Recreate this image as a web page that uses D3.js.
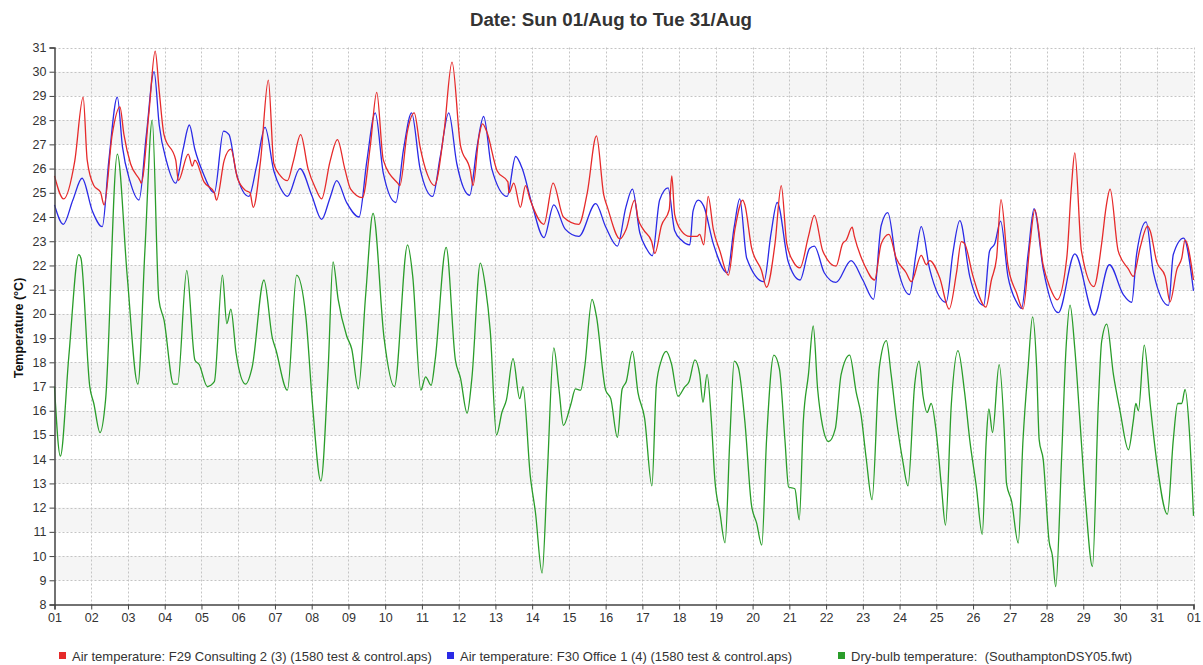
<!DOCTYPE html>
<html>
<head>
<meta charset="utf-8">
<script src="https://cdn.jsdelivr.net/npm/d3@7"></script>
<style>
  html, body { margin: 0; padding: 0; background: #ffffff; }
  svg { display: block; font-family: "Liberation Sans", Arial, sans-serif; }
</style>
</head>
<body>
<svg id="chart" width="1203" height="665"></svg>
<script>
// ---------- DATA (day offset from 01/Aug 00:00, temperature °C) ----------
const titleText = "Date: Sun 01/Aug to Tue 31/Aug";
const yAxisLabel = "Temperature (°C)";
const seriesNames = [
  "Air temperature: F29 Consulting 2 (3) (1580 test & control.aps)",
  "Air temperature: F30 Office 1 (4) (1580 test & control.aps)",
  "Dry-bulb temperature:  (SouthamptonDSY05.fwt)"
];
const xTickLabels = ["01","02","03","04","05","06","07","08","09","10","11","12","13","14","15","16",
  "17","18","19","20","21","22","23","24","25","26","27","28","29","30","31","01"];
const yTicks = [8,9,10,11,12,13,14,15,16,17,18,19,20,21,22,23,24,25,26,27,28,29,30,31];

const consulting2 = [
  [0,25.7],[0.25,24.75],[0.55,26.3],[0.78,28.95],[0.89,26.35],[1.07,25.3],[1.25,25.03],[1.35,24.5],
  [1.57,27.4],[1.78,28.55],[1.89,27.4],[2.07,26.2],[2.33,25.5],[2.36,25.4],[2.57,28.3],[2.74,30.85],
  [2.85,29.2],[2.98,27.4],[3.3,26.35],[3.37,25.5],[3.64,26.6],[3.75,26.1],[3.82,26.35],[4.07,25.45],
  [4.35,25.0],[4.41,24.7],[4.62,26.35],[4.8,26.8],[4.98,25.6],[5.2,25.1],[5.32,25.0],[5.41,24.4],
  [5.61,26.35],[5.82,29.65],[5.97,26.2],[6.15,25.7],[6.34,25.5],[6.5,26.3],[6.7,27.4],[6.9,26.0],
  [7.1,25.2],[7.27,24.75],[7.5,26.3],[7.7,27.2],[7.9,26.0],[8.06,25.15],[8.38,24.8],[8.6,27.0],
  [8.77,29.15],[8.95,26.35],[9.34,25.4],[9.4,25.3],[9.6,27.5],[9.79,28.3],[9.95,26.9],[10.15,25.75],
  [10.34,25.3],[10.6,27.5],[10.82,30.4],[11.05,26.95],[11.32,25.9],[11.39,25.3],[11.55,27.3],[11.65,27.85],
  [11.77,27.5],[12.05,25.9],[12.34,25.45],[12.37,25.0],[12.5,25.4],[12.68,24.4],[12.82,25.3],[12.95,24.7],
  [13.32,23.7],[13.57,25.4],[13.85,24.0],[14.27,23.7],[14.5,25.0],[14.75,27.35],[14.95,24.9],[15.05,24.4],
  [15.39,23.1],[15.56,23.5],[15.79,24.7],[15.88,23.95],[16.02,23.5],[16.25,23.0],[16.34,22.5],[16.52,23.65],
  [16.73,24.3],[16.8,25.7],[16.88,24.1],[17.06,23.43],[17.29,23.2],[17.49,23.2],[17.56,23.28],[17.67,22.85],
  [17.79,24.85],[17.93,23.5],[18.11,22.6],[18.34,21.6],[18.52,23.5],[18.73,24.7],[18.79,24.5],[18.97,22.75],
  [19.24,21.8],[19.38,21.1],[19.61,22.9],[19.78,25.3],[19.93,22.9],[20.11,22.15],[20.29,21.9],[20.52,23.2],
  [20.68,24.07],[20.91,22.6],[21.27,21.97],[21.45,22.9],[21.55,23.05],[21.71,23.58],[21.77,23.2],[22.05,22.0],
  [22.32,21.4],[22.5,22.9],[22.71,23.28],[22.91,22.3],[23.18,21.7],[23.32,21.33],[23.59,22.42],[23.73,22.03],
  [23.82,22.2],[24.09,21.5],[24.35,20.2],[24.55,21.7],[24.68,22.98],[24.77,22.9],[25.0,21.55],[25.35,20.28],
  [25.5,21.4],[25.64,22.3],[25.76,24.72],[25.95,22.0],[26.18,20.88],[26.36,20.2],[26.55,22.9],[26.68,24.3],
  [26.91,22.0],[27.09,21.1],[27.29,20.58],[27.55,22.3],[27.68,25.3],[27.77,26.65],[27.95,22.6],[28.29,21.13],
  [28.5,22.9],[28.62,24.4],[28.73,25.15],[28.95,22.6],[29.23,21.85],[29.36,21.55],[29.55,22.75],[29.75,23.62],
  [29.82,23.43],[30.0,22.15],[30.23,21.55],[30.36,20.5],[30.55,21.85],[30.68,22.3],[30.77,23.05],[31.0,21.4]
];

const office1 = [
  [0,24.5],[0.24,23.7],[0.5,24.7],[0.75,25.6],[1.03,24.25],[1.3,23.6],[1.48,26.35],[1.71,28.95],
  [1.85,26.9],[2.05,25.5],[2.3,24.7],[2.5,27.4],[2.71,30.0],[2.85,27.8],[3.05,26.3],[3.3,25.4],
  [3.5,26.8],[3.67,27.8],[3.82,26.8],[4.05,25.8],[4.35,25.0],[4.6,27.55],[4.75,27.4],[4.95,25.8],
  [5.29,24.85],[5.5,26.1],[5.73,27.7],[5.97,25.9],[6.15,25.2],[6.34,24.85],[6.68,26.0],[7.0,24.9],
  [7.27,23.9],[7.5,24.8],[7.68,25.5],[7.95,24.6],[8.29,24.0],[8.5,26.3],[8.73,28.3],[8.95,25.8],
  [9.29,24.6],[9.5,26.8],[9.72,28.3],[9.95,26.0],[10.29,24.85],[10.5,26.5],[10.73,28.3],[10.95,26.2],
  [11.3,24.9],[11.5,26.9],[11.68,28.15],[11.9,26.0],[12.32,24.85],[12.55,26.5],[12.73,26.0],[13.0,24.5],
  [13.32,23.15],[13.59,24.5],[13.9,23.5],[14.27,23.2],[14.73,24.55],[15.0,23.6],[15.32,22.8],[15.55,24.4],
  [15.73,25.15],[15.93,23.35],[16.11,22.7],[16.27,22.4],[16.47,24.7],[16.7,25.2],[16.88,23.43],[17.06,23.05],
  [17.29,22.85],[17.38,24.25],[17.52,24.7],[17.67,24.45],[17.93,22.9],[18.31,21.7],[18.5,23.6],[18.65,24.75],
  [18.84,22.3],[19.31,21.33],[19.5,23.3],[19.67,24.6],[19.97,22.15],[20.29,21.4],[20.55,22.7],[20.68,22.8],
  [20.95,21.7],[21.27,21.3],[21.68,22.2],[22.0,21.4],[22.29,20.6],[22.5,23.65],[22.68,24.18],[22.91,22.15],
  [23.27,20.8],[23.45,22.5],[23.59,23.6],[23.82,21.85],[24.27,20.48],[24.45,22.5],[24.64,23.85],[24.91,21.55],
  [25.29,20.35],[25.45,22.6],[25.59,22.9],[25.75,23.83],[25.95,21.55],[26.18,20.5],[26.32,20.23],[26.5,22.5],
  [26.66,24.35],[26.91,21.85],[27.32,20.05],[27.77,22.48],[28.3,19.95],[28.71,22.03],[29.09,20.8],[29.32,20.48],
  [29.45,22.45],[29.71,23.8],[29.91,21.7],[30.32,20.35],[30.45,22.45],[30.73,23.13],[31.0,20.95]
];

const dryBulb = [
  [0,17.0],[0.16,14.13],[0.39,18.25],[0.66,22.45],[0.72,22.3],[0.96,17.0],[1.07,16.3],[1.24,15.1],
  [1.39,16.45],[1.71,26.6],[1.98,21.55],[2.27,17.1],[2.46,22.6],[2.66,28.0],[2.84,20.6],[2.98,19.75],
  [3.24,17.1],[3.35,17.1],[3.6,21.8],[3.82,18.1],[3.94,17.9],[4.16,17.0],[4.35,17.2],[4.57,21.6],
  [4.69,19.6],[4.8,20.2],[4.94,18.4],[5.2,17.1],[5.38,17.8],[5.7,21.4],[5.93,19.0],[6.02,18.55],
  [6.34,16.85],[6.59,21.6],[6.84,19.9],[7.02,16.3],[7.25,13.1],[7.45,17.8],[7.58,22.15],[7.72,20.6],
  [7.95,19.1],[8.09,18.55],[8.27,16.9],[8.47,20.8],[8.67,24.15],[8.97,19.0],[9.25,17.0],[9.61,22.85],
  [9.75,21.55],[9.97,16.85],[10.1,17.4],[10.25,17.05],[10.36,18.1],[10.66,22.75],[10.91,18.1],[11.05,17.35],
  [11.23,15.9],[11.36,17.35],[11.59,22.1],[11.73,21.1],[11.86,19.3],[12.03,15.0],[12.18,15.95],[12.3,16.45],
  [12.48,18.15],[12.66,16.5],[12.75,17.0],[12.95,13.3],[13.09,11.8],[13.27,9.3],[13.41,13.3],[13.59,18.6],
  [13.73,16.9],[13.85,15.4],[14.05,16.25],[14.18,16.9],[14.32,16.85],[14.43,17.8],[14.63,20.6],[14.75,19.9],
  [15.0,16.85],[15.14,16.5],[15.32,14.9],[15.45,16.9],[15.56,17.2],[15.73,18.45],[15.88,16.75],[16.06,15.7],
  [16.26,12.9],[16.38,17.05],[16.52,18.1],[16.65,18.45],[16.79,17.95],[16.97,16.6],[17.15,16.98],[17.27,17.2],
  [17.43,18.1],[17.56,17.5],[17.65,16.35],[17.76,17.5],[17.88,15.55],[17.97,13.2],[18.11,11.8],[18.25,10.55],
  [18.38,14.8],[18.5,18.05],[18.61,17.8],[18.79,15.55],[18.97,12.1],[19.11,11.36],[19.25,10.45],[19.38,14.8],
  [19.58,18.3],[19.73,17.73],[19.88,14.8],[19.98,12.85],[20.15,12.78],[20.27,11.5],[20.38,15.56],[20.52,17.5],
  [20.65,19.5],[20.77,16.9],[20.9,15.41],[21.07,14.73],[21.25,15.25],[21.41,17.5],[21.64,18.3],[21.82,16.76],
  [21.95,15.85],[22.09,14.06],[22.25,12.33],[22.45,17.8],[22.64,18.9],[22.77,17.5],[22.91,15.7],[23.09,13.9],
  [23.23,12.9],[23.41,17.06],[23.53,18.05],[23.64,16.6],[23.75,15.93],[23.86,16.3],[24.0,15.1],[24.14,12.86],
  [24.25,11.28],[24.41,16.3],[24.59,18.48],[24.77,16.76],[24.91,14.8],[25.09,12.86],[25.25,10.9],[25.36,14.8],
  [25.43,16.08],[25.53,15.1],[25.71,17.9],[25.86,14.8],[25.91,13.0],[26.05,12.26],[26.23,10.54],[26.36,14.8],
  [26.5,17.8],[26.62,19.88],[26.73,17.8],[26.8,14.8],[26.91,13.98],[27.07,10.61],[27.16,10.01],[27.25,8.74],
  [27.41,14.06],[27.53,18.56],[27.64,20.36],[27.77,18.56],[27.91,15.56],[28.07,12.1],[28.25,9.56],[28.41,16.3],
  [28.5,18.86],[28.64,19.58],[28.82,17.5],[29.0,16.0],[29.23,14.39],[29.36,15.56],[29.43,16.3],[29.5,16.0],
  [29.66,18.71],[29.82,16.3],[30.0,13.9],[30.29,11.73],[30.45,14.8],[30.57,16.3],[30.68,16.3],[30.77,16.88],
  [30.89,15.1],[31.0,11.66]
];

const seriesColors = ["#e62a2a", "#2a2ae6", "#2a9d2a"];

// ---------- CHART ----------
const svg = d3.select("#chart");
const plotLeft = 54.5, plotRight = 1193.5, plotTop = 47.5, plotBottom = 604.5;

const startMs = Date.UTC(2021, 7, 1);
const dayMs = 864e5;
const toDate = d => new Date(startMs + d * dayMs);

const x = d3.scaleUtc().domain([toDate(0), toDate(31)]).range([plotLeft, plotRight]);
const y = d3.scaleLinear().domain([8, 31]).range([plotBottom, plotTop]);

// alternate bands
const bandLows = yTicks.filter(v => v < 31 && v % 2 === 1);
svg.append("g").selectAll("rect").data(bandLows).join("rect")
  .attr("x", plotLeft).attr("width", plotRight - plotLeft)
  .attr("y", d => y(d + 1)).attr("height", d => y(d) - y(d + 1))
  .attr("fill", "#f5f5f5");

// grid
const dayTicks = d3.range(0, 32).map(toDate);
svg.append("g").selectAll("line").data(yTicks.filter(v => v > 8)).join("line")
  .attr("x1", plotLeft).attr("x2", plotRight)
  .attr("y1", d => Math.round(y(d)) + 0.5).attr("y2", d => Math.round(y(d)) + 0.5)
  .attr("stroke", "#c4c4c4").attr("stroke-dasharray", "2,2");
svg.append("g").selectAll("line").data(dayTicks.slice(1)).join("line")
  .attr("x1", d => Math.round(x(d)) + 0.5).attr("x2", d => Math.round(x(d)) + 0.5)
  .attr("y1", plotTop).attr("y2", plotBottom)
  .attr("stroke", "#c4c4c4").attr("stroke-dasharray", "2,2");

// lines
const line = d3.line()
  .x(d => x(toDate(d[0])))
  .y(d => y(d[1]))
  .curve(d3.curveMonotoneX);

const plotG = svg.append("g");
[[dryBulb, 2], [office1, 1], [consulting2, 0]].forEach(([data, i]) => {
  plotG.append("path").datum(data)
    .attr("d", line)
    .attr("fill", "none")
    .attr("stroke", seriesColors[i])
    .attr("stroke-width", 1.3)
    .attr("stroke-linejoin", "round");
});

// axes
const xAxis = d3.axisBottom(x)
  .tickValues(dayTicks)
  .tickSize(5).tickPadding(4)
  .tickFormat((d, i) => xTickLabels[i]);
const gx = svg.append("g").attr("transform", `translate(0,${plotBottom})`).call(xAxis);

const yAxis = d3.axisLeft(y).tickValues(yTicks).tickSize(5).tickPadding(3).tickFormat(d3.format("d"));
const gy = svg.append("g").attr("transform", `translate(${plotLeft},0)`).call(yAxis);

[gx, gy].forEach(g => {
  g.select(".domain").attr("stroke", "#444").attr("stroke-width", 1.5);
  g.selectAll(".tick line").attr("stroke", "#444");
  g.selectAll(".tick text").attr("fill", "#333").style("font-size", "12.5px")
    .style("font-family", "'Liberation Sans', Arial, sans-serif");
});

// title
svg.append("text")
  .attr("x", 611).attr("y", 26)
  .attr("text-anchor", "middle")
  .attr("fill", "#333")
  .style("font-size", "18.7px").style("font-weight", "bold")
  .text(titleText);

// y label
svg.append("text")
  .attr("transform", "translate(23,328) rotate(-90)")
  .attr("text-anchor", "middle")
  .attr("fill", "#111")
  .style("font-size", "12.5px").style("font-weight", "bold")
  .text(yAxisLabel);

// legend
const legendX = [59, 447, 838];
const legend = svg.append("g");
seriesNames.forEach((name, i) => {
  legend.append("rect")
    .attr("x", legendX[i]).attr("y", 652).attr("width", 7).attr("height", 7)
    .attr("fill", seriesColors[i]);
  legend.append("text")
    .attr("x", legendX[i] + 13).attr("y", 661)
    .attr("fill", "#333")
    .style("font-size", "13px")
    .style("white-space", "pre")
    .text(name);
});
</script>
</body>
</html>
